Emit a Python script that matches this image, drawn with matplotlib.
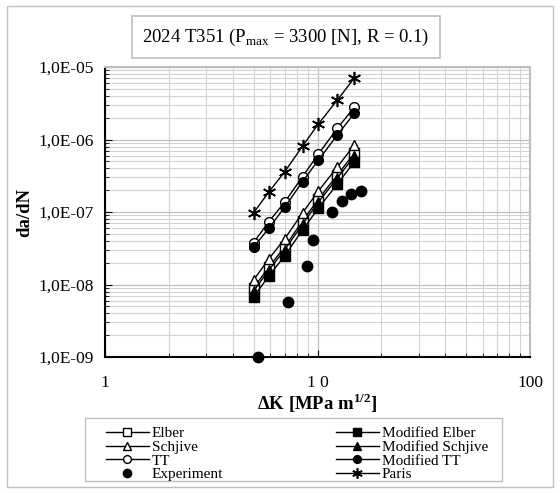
import numpy as np
import matplotlib
matplotlib.use('Agg')
import matplotlib.pyplot as plt
from matplotlib.ticker import LogLocator, NullFormatter, FuncFormatter
from matplotlib.patches import Rectangle

plt.rcParams['font.family'] = ['Liberation Serif', 'DejaVu Serif']
plt.rcParams['mathtext.fontset'] = 'custom'
plt.rcParams['mathtext.rm'] = 'Liberation Serif'
plt.rcParams['mathtext.bf'] = 'Liberation Serif:bold'

# stress intensity range for the model curves
dK = [5.0, 5.9, 7.0, 8.5, 10.1, 12.4, 14.9]

elber = [8.95e-9, 1.74e-8, 3.29e-8, 7.5e-8, 1.51e-7, 3.24e-7, 6.5e-7]
mod_elber = [6.7e-9, 1.31e-8, 2.47e-8, 5.65e-8, 1.13e-7, 2.43e-7, 4.9e-7]
schjive = [1.15e-8, 2.25e-8, 4.25e-8, 9.7e-8, 1.95e-7, 4.18e-7, 8.4e-7]
mod_schjive = [8.1e-9, 1.58e-8, 2.99e-8, 6.8e-8, 1.37e-7, 2.94e-7, 5.9e-7]
tt = [3.78e-8, 7.35e-8, 1.36e-7, 3.07e-7, 6.3e-7, 1.43e-6, 2.78e-6]
mod_tt = [3.26e-8, 5.96e-8, 1.16e-7, 2.62e-7, 5.21e-7, 1.15e-6, 2.3e-6]
paris = [9.7e-8, 1.89e-7, 3.56e-7, 8.1e-7, 1.64e-6, 3.5e-6, 7.05e-6]

exp_dK = [5.26, 7.29, 8.9, 9.49, 11.75, 13.1, 14.3, 16.0]
exp_rate = [1.0e-9, 5.8e-9, 1.82e-8, 4.1e-8, 1.0e-7, 1.42e-7, 1.75e-7, 1.97e-7]

W, H = 560, 493
fig = plt.figure(figsize=(W/100, H/100), dpi=100)
# chart area border and legend frame
fig.patches.append(Rectangle((7/W, 6/H), 546/W, 481/H, transform=fig.transFigure,
	fill=False, edgecolor='#bfbfbf', linewidth=1.0))
fig.patches.append(Rectangle((85/W, 1-481/H), 417/W, 63/H, transform=fig.transFigure,
	fill=False, edgecolor='#bfbfbf', linewidth=1.0))

ax = fig.add_axes([105/W, 1-357/H, 425/W, 290/H])
ax.set_xscale('log')
ax.set_yscale('log')
ax.set_xlim(1, 100)
ax.set_ylim(1e-9, 1e-5)

ms = 6.5
lw = 1.0
ax.plot(dK, elber, '-s', color='k', mfc='white', mec='k', ms=ms, lw=lw, label='Elber')
ax.plot(dK, schjive, '-^', color='k', mfc='white', mec='k', ms=ms+0.5, lw=lw, label='Schjive')
ax.plot(dK, tt, '-o', color='k', mfc='white', mec='k', ms=ms+0.5, lw=lw, label='TT')
ax.plot(exp_dK, exp_rate, 'o', color='k', ms=ms+1, lw=0, label='Experiment', clip_on=False, zorder=5)
ax.plot(dK, mod_elber, '-s', color='k', ms=ms, lw=lw, label='Modified Elber')
ax.plot(dK, mod_schjive, '-^', color='k', ms=ms+0.5, lw=lw, label='Modified Schjive')
ax.plot(dK, mod_tt, '-o', color='k', ms=ms+0.5, lw=lw, label='Modified TT')
ax.plot(dK, paris, '-', marker=(6, 2, 0), color='k', ms=ms+3, mew=1.2, lw=lw, label='Paris')

# grid like the spreadsheet original
ax.xaxis.set_minor_locator(LogLocator(base=10, subs=np.arange(2, 10)))
ax.yaxis.set_minor_locator(LogLocator(base=10, subs=np.arange(2, 10)))
ax.xaxis.set_minor_formatter(NullFormatter())
ax.yaxis.set_minor_formatter(NullFormatter())
ax.grid(True, which='major', color='#bfbfbf', lw=0.9)
ax.grid(True, which='minor', color='#d3d3d3', lw=0.8)
ax.set_axisbelow(True)

ax.yaxis.set_major_formatter(FuncFormatter(lambda v, p: '1,0E-{:02d}'.format(int(round(-np.log10(v))))))
ax.xaxis.set_major_formatter(FuncFormatter(lambda v, p: {1: '1', 10: '1 0', 100: '100'}.get(int(round(v)), '')))
ax.tick_params(which='both', direction='in', color='k', labelsize=12.5, pad=13)
ax.tick_params(which='major', length=5)
ax.tick_params(which='minor', length=3)
ax.tick_params(axis='y', which='both', pad=8)
for s in ['top', 'right']:
	ax.spines[s].set_color('#bfbfbf')
	ax.spines[s].set_linewidth(1.5)
for s in ['left', 'bottom']:
	ax.spines[s].set_color('k')
	ax.spines[s].set_linewidth(1.5)

ax.set_xlabel(r'$\mathbf{\Delta}$K [MPa m$^{\mathbf{1/2}}$]', fontsize=13.5, fontweight='bold', labelpad=0)
ax.set_ylabel('da/dN', fontsize=13.5, fontweight='bold')
ax.yaxis.set_label_coords(-0.168, 0.5)

fig.text(286/W, 1-37/H, r'2024 T351 (P$_{\rm max}$ = 3300 [N], R = 0.1)', fontsize=13.5,
	ha='center', va='center',
	bbox=dict(boxstyle='square,pad=0.55', fc='white', ec='#bfbfbf', lw=1.2))

fig.legend(loc='center', bbox_to_anchor=(106/W, 1-485/H, 382/W, 62/H), mode='expand',
	ncol=2, fontsize=11, frameon=False,
	handlelength=2.8, markerscale=0.8, labelspacing=0.0, handletextpad=0.2,
	borderpad=0.0, borderaxespad=0)

plt.savefig('out.png', dpi=100)
